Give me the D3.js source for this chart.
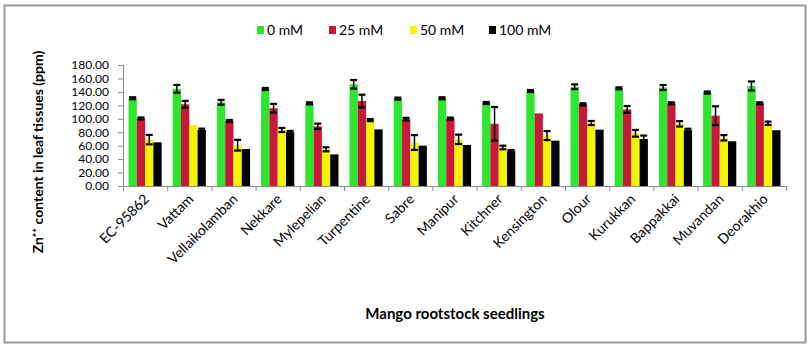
<!DOCTYPE html>
<html>
<head>
<meta charset="utf-8">
<script src="https://cdn.jsdelivr.net/npm/d3@7"></script>
<style>
  body { margin: 0; background: #fff; }
  text { font-family: Lato, "Open Sans", sans-serif; }
</style>
</head>
<body>
<script>
  const categories = ['EC-95862', 'Vattam', 'Vellaikolamban', 'Nekkare', 'Mylepelian', 'Turpentine', 'Sabre',
    'Manipur', 'Kitchner', 'Kensington', 'Olour', 'Kurukkan', 'Bappakkai', 'Muvandan', 'Deorakhio'];
  const seriesNames = ['0 mM', '25 mM', '50 mM', '100 mM'];

  const mM0 = [130.5, 144.6, 124.5, 144.3, 123, 151.3, 130, 130.5, 123.5, 141.3, 147.7, 145.3, 146.5, 139, 148.8];
  const mM25 = [100.5, 121.5, 96.7, 115.6, 88.8, 126.4, 99.4, 100.3, 92.5, 108, 121.5, 114, 123, 104.6, 123];
  const mM50 = [69, 90.7, 60.7, 83.3, 54.6, 98, 64.7, 69.4, 57.3, 75, 93.7, 78.4, 92.5, 71.7, 93.3];
  const mM100 = [65, 83.3, 55, 80, 47, 84.3, 60, 61, 52, 67.4, 83.8, 70, 83, 66.5, 83];

  const err0 = [1.5, 5.7, 3.5, 1.5, 1.5, 6.4, 1.5, 1.5, 1.5, 1.5, 3.5, 1.5, 3.7, 1.5, 6.7];
  const err25 = [1.5, 5, 1.5, 6.5, 4, 9.4, 2, 1.5, 25, 0, 1.5, 5, 1.5, 14, 1.5];
  const err50 = [7, 0, 8, 3, 3, 1.5, 11, 7, 2.7, 6.7, 3, 5, 4, 4, 2.5];
  const err100 = [0, 2, 0, 2, 0, 0, 0, 0, 1.5, 0, 0, 5, 2.2, 0, 0];

  const yTicks = [0, 20, 40, 60, 80, 100, 120, 140, 160, 180];
  const colors = ['#2ee62e', '#c8193a', '#f5f500', '#000000'];

  const values = [mM0, mM25, mM50, mM100];
  const errors = [err0, err25, err50, err100];

  const rows = [];
  categories.forEach((c, i) => {
    seriesNames.forEach((s, j) => {
      rows.push({ cat: c, s: s, idx: j, v: values[j][i], e: errors[j][i] });
    });
  });

  const width = 811;
  const height = 349;
  const plotLeft = 123, plotRight = 786, plotTop = 65, plotBottom = 186;

  const svg = d3.select('body')
          .append('svg')
          .attr('width', width)
          .attr('height', height);

  // outer frame
  svg.append('rect')
          .attr('x', 4.5).attr('y', 5.5)
          .attr('width', 801).attr('height', 337)
          .attr('fill', 'none')
          .attr('stroke', '#9a9a9a')
          .attr('stroke-width', 2);

  const x0 = d3.scaleBand()
          .domain(categories)
          .range([plotLeft, plotRight])
          .paddingInner(0.25)
          .paddingOuter(0.125);

  const x1 = d3.scaleBand()
          .domain(seriesNames)
          .range([0, x0.bandwidth()]);

  const y = d3.scaleLinear()
          .domain([0, 180])
          .range([plotBottom, plotTop]);

  // y axis
  const yAxis = svg.append('g')
          .attr('transform', `translate(${plotLeft},0)`)
          .call(d3.axisLeft(y).tickValues(yTicks).tickFormat(d3.format('.2f')).tickSize(5).tickPadding(9));
  yAxis.select('.domain').attr('stroke', '#8c8c8c');
  yAxis.selectAll('.tick line').attr('stroke', '#8c8c8c');
  yAxis.selectAll('.tick text').attr('font-size', '12px').attr('fill', '#000')
          .attr('font-family', '"Open Sans", sans-serif');

  // x axis line with boundary ticks
  const step = x0.step();
  svg.append('line')
          .attr('x1', plotLeft).attr('x2', plotRight)
          .attr('y1', plotBottom + 0.5).attr('y2', plotBottom + 0.5)
          .attr('stroke', '#8c8c8c');
  svg.append('g')
          .selectAll('line')
          .data(d3.range(categories.length + 1))
          .enter()
          .append('line')
          .attr('x1', d => plotLeft + d * step + 0.5)
          .attr('x2', d => plotLeft + d * step + 0.5)
          .attr('y1', plotBottom)
          .attr('y2', plotBottom + 5)
          .attr('stroke', '#8c8c8c');

  // bars
  svg.append('g')
          .selectAll('rect')
          .data(rows)
          .enter()
          .append('rect')
          .attr('x', d => x0(d.cat) + x1(d.s))
          .attr('y', d => y(d.v))
          .attr('width', x1.bandwidth())
          .attr('height', d => plotBottom - y(d.v))
          .attr('fill', d => colors[d.idx]);

  // error bars
  const eb = svg.append('g')
          .selectAll('g')
          .data(rows.filter(d => d.e > 0))
          .enter()
          .append('g')
          .attr('stroke', '#000');
  const cx = d => x0(d.cat) + x1(d.s) + x1.bandwidth() / 2;
  eb.append('line')
          .attr('x1', cx).attr('x2', cx)
          .attr('y1', d => y(d.v + d.e)).attr('y2', d => y(d.v - d.e))
          .attr('stroke-width', 1.5);
  eb.append('line')
          .attr('x1', d => cx(d) - 3.5).attr('x2', d => cx(d) + 3.5)
          .attr('y1', d => y(d.v + d.e)).attr('y2', d => y(d.v + d.e))
          .attr('stroke-width', 2.2);
  eb.append('line')
          .attr('x1', d => cx(d) - 3.5).attr('x2', d => cx(d) + 3.5)
          .attr('y1', d => y(d.v - d.e)).attr('y2', d => y(d.v - d.e))
          .attr('stroke-width', 2.2);

  // category labels
  svg.append('g')
          .selectAll('text')
          .data(categories)
          .enter()
          .append('text')
          .attr('transform', d => `translate(${x0(d) + x0.bandwidth() / 2 + 5},${plotBottom + 14}) rotate(-45)`)
          .attr('text-anchor', 'end')
          .attr('font-size', '14px')
          .text(d => d);

  // axis titles
  svg.append('text')
          .attr('transform', 'translate(43,152) rotate(-90)')
          .attr('text-anchor', 'middle')
          .attr('font-size', '14px')
          .attr('font-weight', 'bold')
          .text('Zn⁺⁺ content in leaf tissues (ppm)');

  svg.append('text')
          .attr('x', 455)
          .attr('y', 319)
          .attr('text-anchor', 'middle')
          .attr('font-size', '15px')
          .attr('font-weight', 'bold')
          .text('Mango rootstock seedlings');

  // legend
  const legendX = [257, 329, 410, 489];
  const legend = svg.append('g')
          .selectAll('g')
          .data(seriesNames)
          .enter()
          .append('g')
          .attr('transform', (d, i) => `translate(${legendX[i]},30)`);
  legend.append('rect')
          .attr('x', 0).attr('y', -4)
          .attr('width', 7).attr('height', 8)
          .attr('fill', (d, i) => colors[i]);
  legend.append('text')
          .attr('x', 10)
          .attr('y', 5)
          .attr('font-size', '14px')
          .text(d => d);
</script>
</body>
</html>
